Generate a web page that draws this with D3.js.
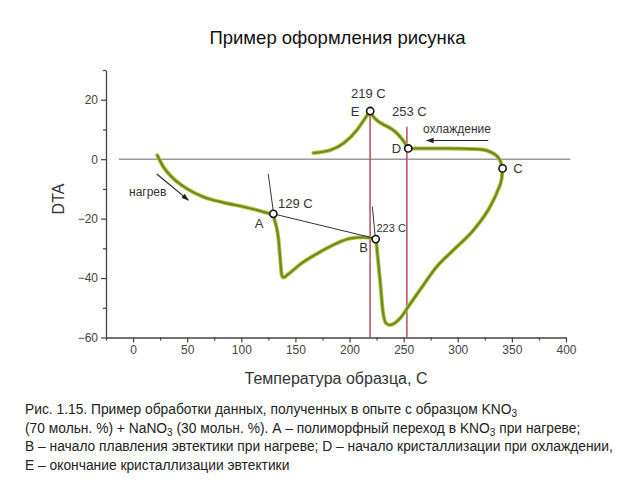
<!DOCTYPE html>
<html><head><meta charset="utf-8">
<script src="https://cdn.jsdelivr.net/npm/d3@7"></script>
<style>
body{margin:0;background:#fff;}
text{font-family:"Liberation Sans",Arial,sans-serif;}
</style></head>
<body><svg id="c" width="640" height="480"></svg>
<script>
// ---- data ----
const heatT   = [22.4, 28, 37.2, 49.6, 65, 83.5, 101.9, 114.3, 122, 127.2, 129.7, 131.2, 132.7, 134.2, 135.8, 137.4, 138.9, 143.4, 154.3, 172.8, 188.2, 200.4, 212.7, 224.2, 225.7, 228.2, 230.7, 233.7, 237.4, 246.6, 254.3, 265.1, 280.5, 295.9, 314.4, 329.8, 337, 340.6, 341.4];
const heatDTA = [1.3, -2.6, -6.5, -9.9, -12.7, -14.6, -16, -17.1, -17.9, -18.5, -19.2, -21.1, -23.2, -26.4, -32.8, -39, -39.8, -38.7, -35.4, -31.2, -28.3, -26.7, -26.3, -26.9, -31.7, -40.7, -50.8, -55.2, -55.8, -53.6, -49.6, -44, -36.2, -30.6, -23.9, -16, -10.5, -6.5, -3.1];
const coolT   = [341.4, 339, 332.9, 320.6, 289.8, 259, 254.3, 251, 247.5, 243, 237.4, 232, 226.6, 222, 218.9, 214.3, 206.6, 194.3, 182, 166.6];
const coolDTA = [-3.1, -0.3, 1.9, 3.3, 3.6, 3.6, 3.6, 5.5, 7.2, 9, 10.5, 11.5, 12.7, 14.3, 16.2, 13.7, 9.7, 5.3, 3, 2.1];

const markerLabels = ["A", "B", "C", "D", "E"];
const markerT      = [129.6, 224.2, 341.4, 254.3, 219.1];
const markerDTA    = [-18.4, -26.9, -3.1, 3.6, 16.2];

const tempLabels = ["129 C", "223 C", "219 C", "253 C"];
const vlineT   = [219, 253];
const vlineTop = [16.2, 10.9];

// tangent construction lines [T1, DTA1, T2, DTA2]
const tangentLines = [
  [124.9, -5.0, 130.5, -20.0],
  [129.6, -18.4, 221.5, -26.5],
  [221.1, -16.0, 224.0, -27.2]
];
const xTicks = [0, 50, 100, 150, 200, 250, 300, 350, 400];
const xMinor = [-25, 25, 75, 125, 175, 225, 275, 325, 375];
const yTicks = [-60, -40, -20, 0, 20];
const yMinor = [-50, -30, -10, 10, 30];
const zeroLine = [-13, 404];

const titleText = "Пример оформления рисунка";
const xTitle = "Температура образца, С";
const yTitle = "DTA";

// ---- drawing ----
const svg = d3.select("#c");
const x = d3.scaleLinear().domain([-25, 400]).range([106, 566]);
const y = d3.scaleLinear().domain([-60, 30]).range([337.5, 70]);

svg.append("text").attr("x", 337.5).attr("y", 44).attr("text-anchor", "middle")
  .attr("font-size", 18.5).attr("fill", "#111").text(titleText);

// zero line
svg.append("line").attr("x1", x(zeroLine[0])).attr("x2", x(zeroLine[1]))
  .attr("y1", y(0)).attr("y2", y(0)).attr("stroke", "#9a9a9a").attr("stroke-width", 1.5);

// axes
const axB = svg.append("g").attr("transform", `translate(0,${y(-60)})`)
  .call(d3.axisBottom(x).tickValues(xTicks).tickSize(5).tickSizeOuter(0));
svg.append("g").attr("transform", `translate(0,${y(-60)})`)
  .call(d3.axisBottom(x).tickValues(xMinor).tickSize(3).tickFormat("")).select(".domain").remove();
const axL = svg.append("g").attr("transform", `translate(${x(-25)},0)`)
  .call(d3.axisLeft(y).tickValues(yTicks).tickSize(5).tickSizeOuter(0));
svg.append("g").attr("transform", `translate(${x(-25)},0)`)
  .call(d3.axisLeft(y).tickValues(yMinor).tickSize(3).tickFormat("")).select(".domain").remove();
svg.selectAll(".domain").attr("stroke", "#444").attr("stroke-width", 1.3);
svg.selectAll(".tick line").attr("stroke", "#444").attr("stroke-width", 1.2);
svg.selectAll(".tick text").attr("font-size", 12).attr("fill", "#444")
  .attr("font-family", "Liberation Sans, Arial, sans-serif");
axB.selectAll(".tick text").attr("dy", "0.9em").attr("y", 6);
axL.selectAll(".tick text").attr("x", -8);

svg.append("text").attr("x", 336).attr("y", 384).attr("text-anchor", "middle")
  .attr("font-size", 16).attr("fill", "#333").text(xTitle);
svg.append("text").attr("transform", "translate(64,199) rotate(-90)").attr("text-anchor", "middle")
  .attr("font-size", 16).attr("fill", "#333").text(yTitle);

// vertical red lines
svg.selectAll(".vl").data(vlineT).join("line")
  .attr("x1", d => x(d)).attr("x2", d => x(d))
  .attr("y1", (d, i) => y(vlineTop[i])).attr("y2", y(-60))
  .attr("stroke", "#b3505e").attr("stroke-width", 1.5);

// curve: drawn in x-monotone pieces (heating, cooling up to E, cooling after E)
const heatPts = heatT.map((t, i) => [t, heatDTA[i]]);
const coolPts = coolT.map((t, i) => [t, coolDTA[i]]);
const eIdx = coolDTA.indexOf(d3.max(coolDTA));
const pieces = [heatPts, coolPts.slice(0, eIdx + 1).reverse(), coolPts.slice(eIdx).reverse()];
const line = d3.line().x(d => x(d[0])).y(d => y(d[1])).curve(d3.curveMonotoneX);
pieces.forEach(p => {
  svg.append("path").attr("d", line(p)).attr("fill", "none")
    .attr("stroke", "#b4c84a").attr("stroke-width", 4).attr("stroke-linejoin", "round").attr("stroke-linecap", "round");
});
pieces.forEach(p => {
  svg.append("path").attr("d", line(p)).attr("fill", "none")
    .attr("stroke", "#6f8a1c").attr("stroke-width", 2.2).attr("stroke-linejoin", "round").attr("stroke-linecap", "round");
});

// tangents
svg.selectAll(".tg").data(tangentLines).join("line")
  .attr("x1", d => x(d[0])).attr("y1", d => y(d[1])).attr("x2", d => x(d[2])).attr("y2", d => y(d[3]))
  .attr("stroke", "#333").attr("stroke-width", 1);

// arrows
const defs = svg.append("defs");
defs.append("marker").attr("id", "ah").attr("viewBox", "0 0 10 10").attr("refX", 9).attr("refY", 5)
  .attr("markerWidth", 7).attr("markerHeight", 7).attr("orient", "auto")
  .append("path").attr("d", "M0,1.5 L10,5 L0,8.5 Z").attr("fill", "#222");
const arrows = [[21.9, -5.0, 51.1, -13.8], [328.2, 6.3, 271.3, 6.3]];
svg.selectAll(".ar").data(arrows).join("line")
  .attr("x1", d => x(d[0])).attr("y1", d => y(d[1])).attr("x2", d => x(d[2])).attr("y2", d => y(d[3]))
  .attr("stroke", "#222").attr("stroke-width", 1.1).attr("marker-end", "url(#ah)");

// markers
svg.selectAll(".mk").data(markerT).join("circle")
  .attr("cx", d => x(d)).attr("cy", (d, i) => y(markerDTA[i])).attr("r", 3.6)
  .attr("fill", "#fff").attr("stroke", "#111").attr("stroke-width", 1.6);

// labels
const lab = (t, px, py, size, anchor) => svg.append("text").attr("x", px).attr("y", py)
  .attr("font-size", size).attr("fill", "#333").attr("text-anchor", anchor || "start").text(t);
lab(markerLabels[0], 259, 228, 13, "middle");
lab(markerLabels[1], 363.5, 252, 13, "middle");
lab(markerLabels[2], 518, 173, 13, "middle");
lab(markerLabels[3], 396.5, 153, 13, "middle");
lab(markerLabels[4], 355, 115.5, 13, "middle");
lab(tempLabels[0], 278, 208, 13);
lab(tempLabels[1], 376.5, 232, 11);
lab(tempLabels[2], 351, 98, 13);
lab(tempLabels[3], 392, 115.5, 13);
lab("нагрев", 129, 196, 12);
lab("охлаждение", 423, 132.5, 12);

// caption
const cap = svg.append("g").attr("font-size", 13.8).attr("fill", "#222");
const capLines = [
  [["Рис. 1.15. Пример обработки данных, полученных в опыте с образцом KNO", 0], ["3", 1]],
  [["(70 мольн. %) + NaNO", 0], ["3", 1], [" (30 мольн. %). А – полиморфный переход в KNO", 0], ["3", 1], [" при нагреве;", 0]],
  [["В – начало плавления эвтектики при нагреве; D – начало кристаллизации при охлаждении,", 0]],
  [["Е – окончание кристаллизации эвтектики", 0]]
];
capLines.forEach((ln, i) => {
  const t = cap.append("text").attr("x", 25).attr("y", 414 + i * 18.5);
  ln.forEach(([s, sub]) => {
    const ts = t.append("tspan").text(s);
    if (sub) ts.attr("font-size", 10).attr("dy", 3); else if (t.selectAll("tspan").size() > 1) ts.attr("dy", -3);
  });
});
</script></body></html>
